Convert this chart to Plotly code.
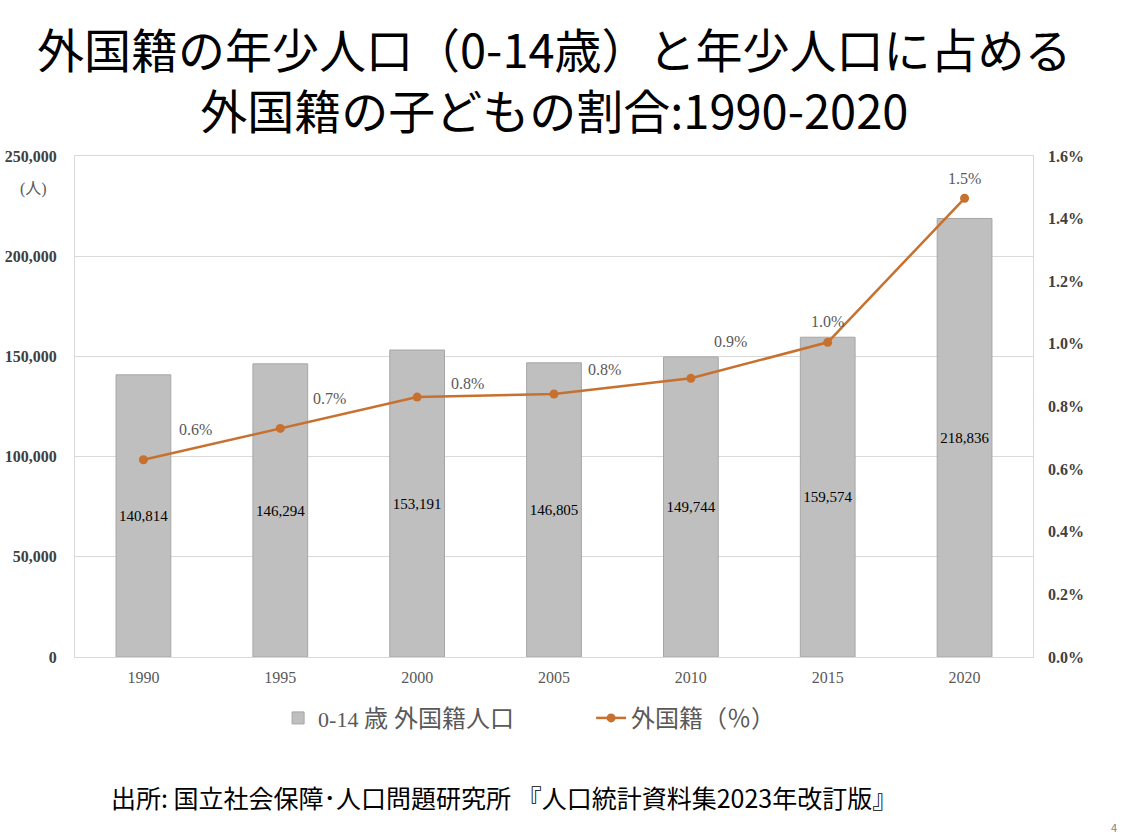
import plotly.graph_objects as go

years = ["1990", "1995", "2000", "2005", "2010", "2015", "2020"]
population = [140814, 146294, 153191, 146805, 149744, 159574, 218836]
share_pct = [0.63, 0.73, 0.83, 0.84, 0.89, 1.005, 1.465]
share_labels = ["0.6%", "0.7%", "0.8%", "0.8%", "0.9%", "1.0%", "1.5%"]
left_ticks = [0, 50000, 100000, 150000, 200000, 250000]
right_ticks = [0.0, 0.2, 0.4, 0.6, 0.8, 1.0, 1.2, 1.4, 1.6]

SERIF = "Liberation Serif, DejaVu Serif, serif"
CJK = "Noto Sans CJK JP, sans-serif"
ORANGE = "#C8702E"
GRAY_TXT = "#595959"

fig = go.Figure()
fig.add_trace(go.Bar(
    x=years, y=population,
    name="0-14 <span style='font-size:24px'>歳 外国籍人口</span>",
    marker=dict(color="#BFBFBF", line=dict(color="#A6A6A6", width=1)),
    width=0.4,
    text=[f"{v:,}" for v in population], textposition="inside",
    insidetextanchor="middle", textangle=0,
    textfont=dict(family=SERIF, size=16, color="#000000"),
    yaxis="y",
))
fig.add_trace(go.Scatter(
    x=years, y=share_pct,
    name="<span style='font-size:24px'>外国籍（％）</span>",
    mode="lines+markers",
    line=dict(color=ORANGE, width=2.5),
    marker=dict(color=ORANGE, size=9),
    yaxis="y2",
))

# label offsets (style)
label_xshift = [52, 49, 50, 50, 40, 0, 0]
label_yshift = [30, 30, 14, 24, 37, 21, 20]
for i, (v, lab) in enumerate(zip(share_pct, share_labels)):
    fig.add_annotation(
        x=i, xref="x", y=v, yref="y2", text=lab, showarrow=False,
        xshift=label_xshift[i], yshift=label_yshift[i],
        font=dict(family=SERIF, size=16, color=GRAY_TXT),
    )

fig.add_annotation(
    xref="paper", yref="paper", x=0.5, y=1.0, yshift=78,
    text="外国籍の年少人口（0-14歳）と年少人口に占める<br>外国籍の子どもの割合:1990-2020",
    showarrow=False, font=dict(family=CJK, size=47, color="#000000"),
    xanchor="center", yanchor="middle",
)
fig.add_annotation(
    xref="paper", yref="paper", x=-0.043, y=0.935,
    text="(人)", showarrow=False,
    font=dict(family=SERIF + ", Noto Sans CJK JP", size=16, color=GRAY_TXT),
    xanchor="center", yanchor="middle",
)
fig.add_annotation(
    xref="paper", yref="paper", x=0.035, y=-0.28,
    text="出所: 国立社会保障･人口問題研究所 『人口統計資料集2023年改訂版』",
    showarrow=False, font=dict(family=CJK, size=25, color="#000000"),
    xanchor="left", yanchor="middle",
)
fig.add_annotation(
    xref="paper", yref="paper", x=1.085, y=-0.34,
    text="4", showarrow=False, font=dict(family=CJK, size=11, color="#7F7F7F"),
    xanchor="center", yanchor="middle",
)

fig.update_layout(
    width=1130, height=835,
    margin=dict(l=75, r=97, t=156, b=178),
    paper_bgcolor="white", plot_bgcolor="white",
    showlegend=True,
    legend=dict(orientation="h", x=0.212, y=-0.122, xanchor="left", yanchor="middle",
                font=dict(family=SERIF + ", Noto Sans CJK JP", size=22, color=GRAY_TXT),
                itemwidth=30, traceorder="normal",
                entrywidth=268, entrywidthmode="pixels"),
    xaxis=dict(
        type="category", range=[-0.5, 6.5], automargin=False,
        showline=True, linecolor="#D9D9D9", linewidth=1, mirror=True,
        ticks="", ticklabelstandoff=6,
        tickfont=dict(family=SERIF, size=16, color=GRAY_TXT),
        showgrid=False,
    ),
    yaxis=dict(
        range=[0, 250000], tickvals=left_ticks, automargin=False,
        ticktext=[f"{v:,}" for v in left_ticks],
        showgrid=True, gridcolor="#D9D9D9", gridwidth=1,
        showline=True, linecolor="#D9D9D9", mirror=True,
        zeroline=False, ticks="", ticklabelstandoff=14,
        tickfont=dict(family=SERIF, size=16, color="#404040", weight="bold"),
    ),
    yaxis2=dict(
        range=[0, 1.6], tickvals=right_ticks, automargin=False,
        ticktext=[f"{v:.1f}%" for v in right_ticks],
        overlaying="y", side="right", showgrid=False, zeroline=False,
        ticks="", ticklabelstandoff=14,
        tickfont=dict(family=SERIF, size=16, color="#404040", weight="bold"),
    ),
)

fig.write_html("out.html")
